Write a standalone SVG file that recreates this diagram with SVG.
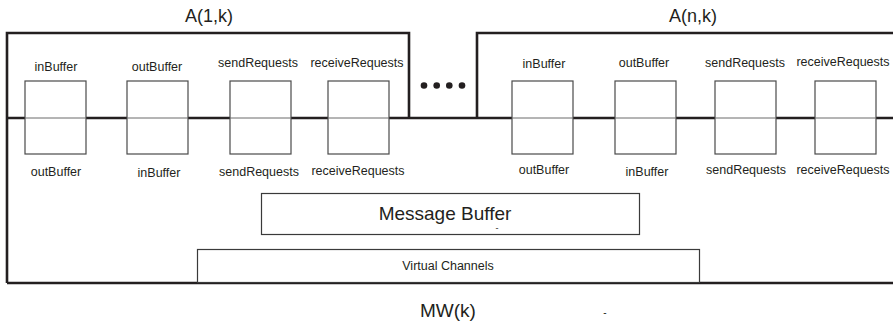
<svg xmlns="http://www.w3.org/2000/svg" width="893" height="327" viewBox="0 0 893 327">
  <style>
    text { font-family: "Liberation Sans", Arial, sans-serif; fill: #231f20; }
    .frame { fill: none; stroke: #231f20; stroke-width: 2.6; }
    .buf { fill: #ffffff; stroke: #4a4a4a; stroke-width: 1.2; }
    .div { stroke: #6a6a6a; stroke-width: 1; }
    .lbl { font-size: 12.5px; text-anchor: middle; }
    .title { font-size: 18px; text-anchor: middle; }
    .box { fill: #ffffff; stroke: #3a3a3a; stroke-width: 1.2; }
  </style>

  <!-- outer frames: agents A(1,k), A(n,k) and middleware MW(k) -->
  <g id="frames">
    <path class="frame" d="M7,283 V33 H409 V118"/>
    <path class="frame" d="M477,118 V33 H893"/>
    <path class="frame" d="M7,118 H893"/>
    <path class="frame" d="M7,283 H893"/>
  </g>

  <!-- agent A(1,k) -->
  <g id="agent1">
    <text class="title" x="209" y="22">A(1,k)</text>
    <text class="lbl" x="56" y="71">inBuffer</text>
    <text class="lbl" x="157" y="71">outBuffer</text>
    <text class="lbl" x="258" y="67">sendRequests</text>
    <text class="lbl" x="357" y="67">receiveRequests</text>
  </g>

  <!-- agent A(n,k) -->
  <g id="agentN">
    <text class="title" x="693" y="22">A(n,k)</text>
    <text class="lbl" x="544" y="68">inBuffer</text>
    <text class="lbl" x="644" y="67">outBuffer</text>
    <text class="lbl" x="745" y="67">sendRequests</text>
    <text class="lbl" x="843" y="66">receiveRequests</text>
  </g>

  <!-- buffer pairs crossing the agent / middleware boundary -->
  <g id="buffers">
    <rect class="buf" x="25" y="81" width="61" height="73"/>
    <rect class="buf" x="127" y="81" width="61" height="73"/>
    <rect class="buf" x="230" y="81" width="61" height="73"/>
    <rect class="buf" x="328" y="81" width="61" height="73"/>
    <rect class="buf" x="512" y="81" width="61" height="73"/>
    <rect class="buf" x="615" y="81" width="61" height="73"/>
    <rect class="buf" x="715" y="81" width="61" height="73"/>
    <rect class="buf" x="815" y="81" width="61" height="73"/>
    <path class="div" d="M25,118 H86 M127,118 H188 M230,118 H291 M328,118 H389 M512,118 H573 M615,118 H676 M715,118 H776 M815,118 H876"/>
  </g>

  <!-- ellipsis between agents -->
  <g id="ellipsis" fill="#231f20">
    <circle cx="424" cy="85.5" r="3.3"/>
    <circle cx="436.7" cy="85.5" r="3.3"/>
    <circle cx="449.3" cy="85.5" r="3.3"/>
    <circle cx="462" cy="85.5" r="3.3"/>
  </g>

  <!-- middleware side labels -->
  <g id="mwLabels">
    <text class="lbl" x="56" y="176">outBuffer</text>
    <text class="lbl" x="159" y="176.5">inBuffer</text>
    <text class="lbl" x="259" y="176">sendRequests</text>
    <text class="lbl" x="358" y="175">receiveRequests</text>
    <text class="lbl" x="544" y="174">outBuffer</text>
    <text class="lbl" x="647" y="176">inBuffer</text>
    <text class="lbl" x="746" y="174">sendRequests</text>
    <text class="lbl" x="843" y="174">receiveRequests</text>
  </g>

  <!-- message buffer -->
  <g id="messageBuffer">
    <rect class="box" x="261.5" y="193.5" width="378" height="41"/>
    <text class="title" style="font-size:19px" x="445" y="220">Message Buffer</text>
    <text style="font-size:9px;text-anchor:middle" x="497" y="231">-</text>
  </g>

  <!-- virtual channels -->
  <g id="virtualChannels">
    <rect class="box" x="197.5" y="249.5" width="502" height="33" stroke-width="1"/>
    <text style="font-size:12.5px;text-anchor:middle" x="448" y="270">Virtual Channels</text>
  </g>

  <!-- middleware title -->
  <g id="middleware">
    <text class="title" style="font-size:19px" x="448" y="317">MW(k)</text>
    <text style="font-size:10px;text-anchor:middle" x="605" y="316">-</text>
  </g>
</svg>
